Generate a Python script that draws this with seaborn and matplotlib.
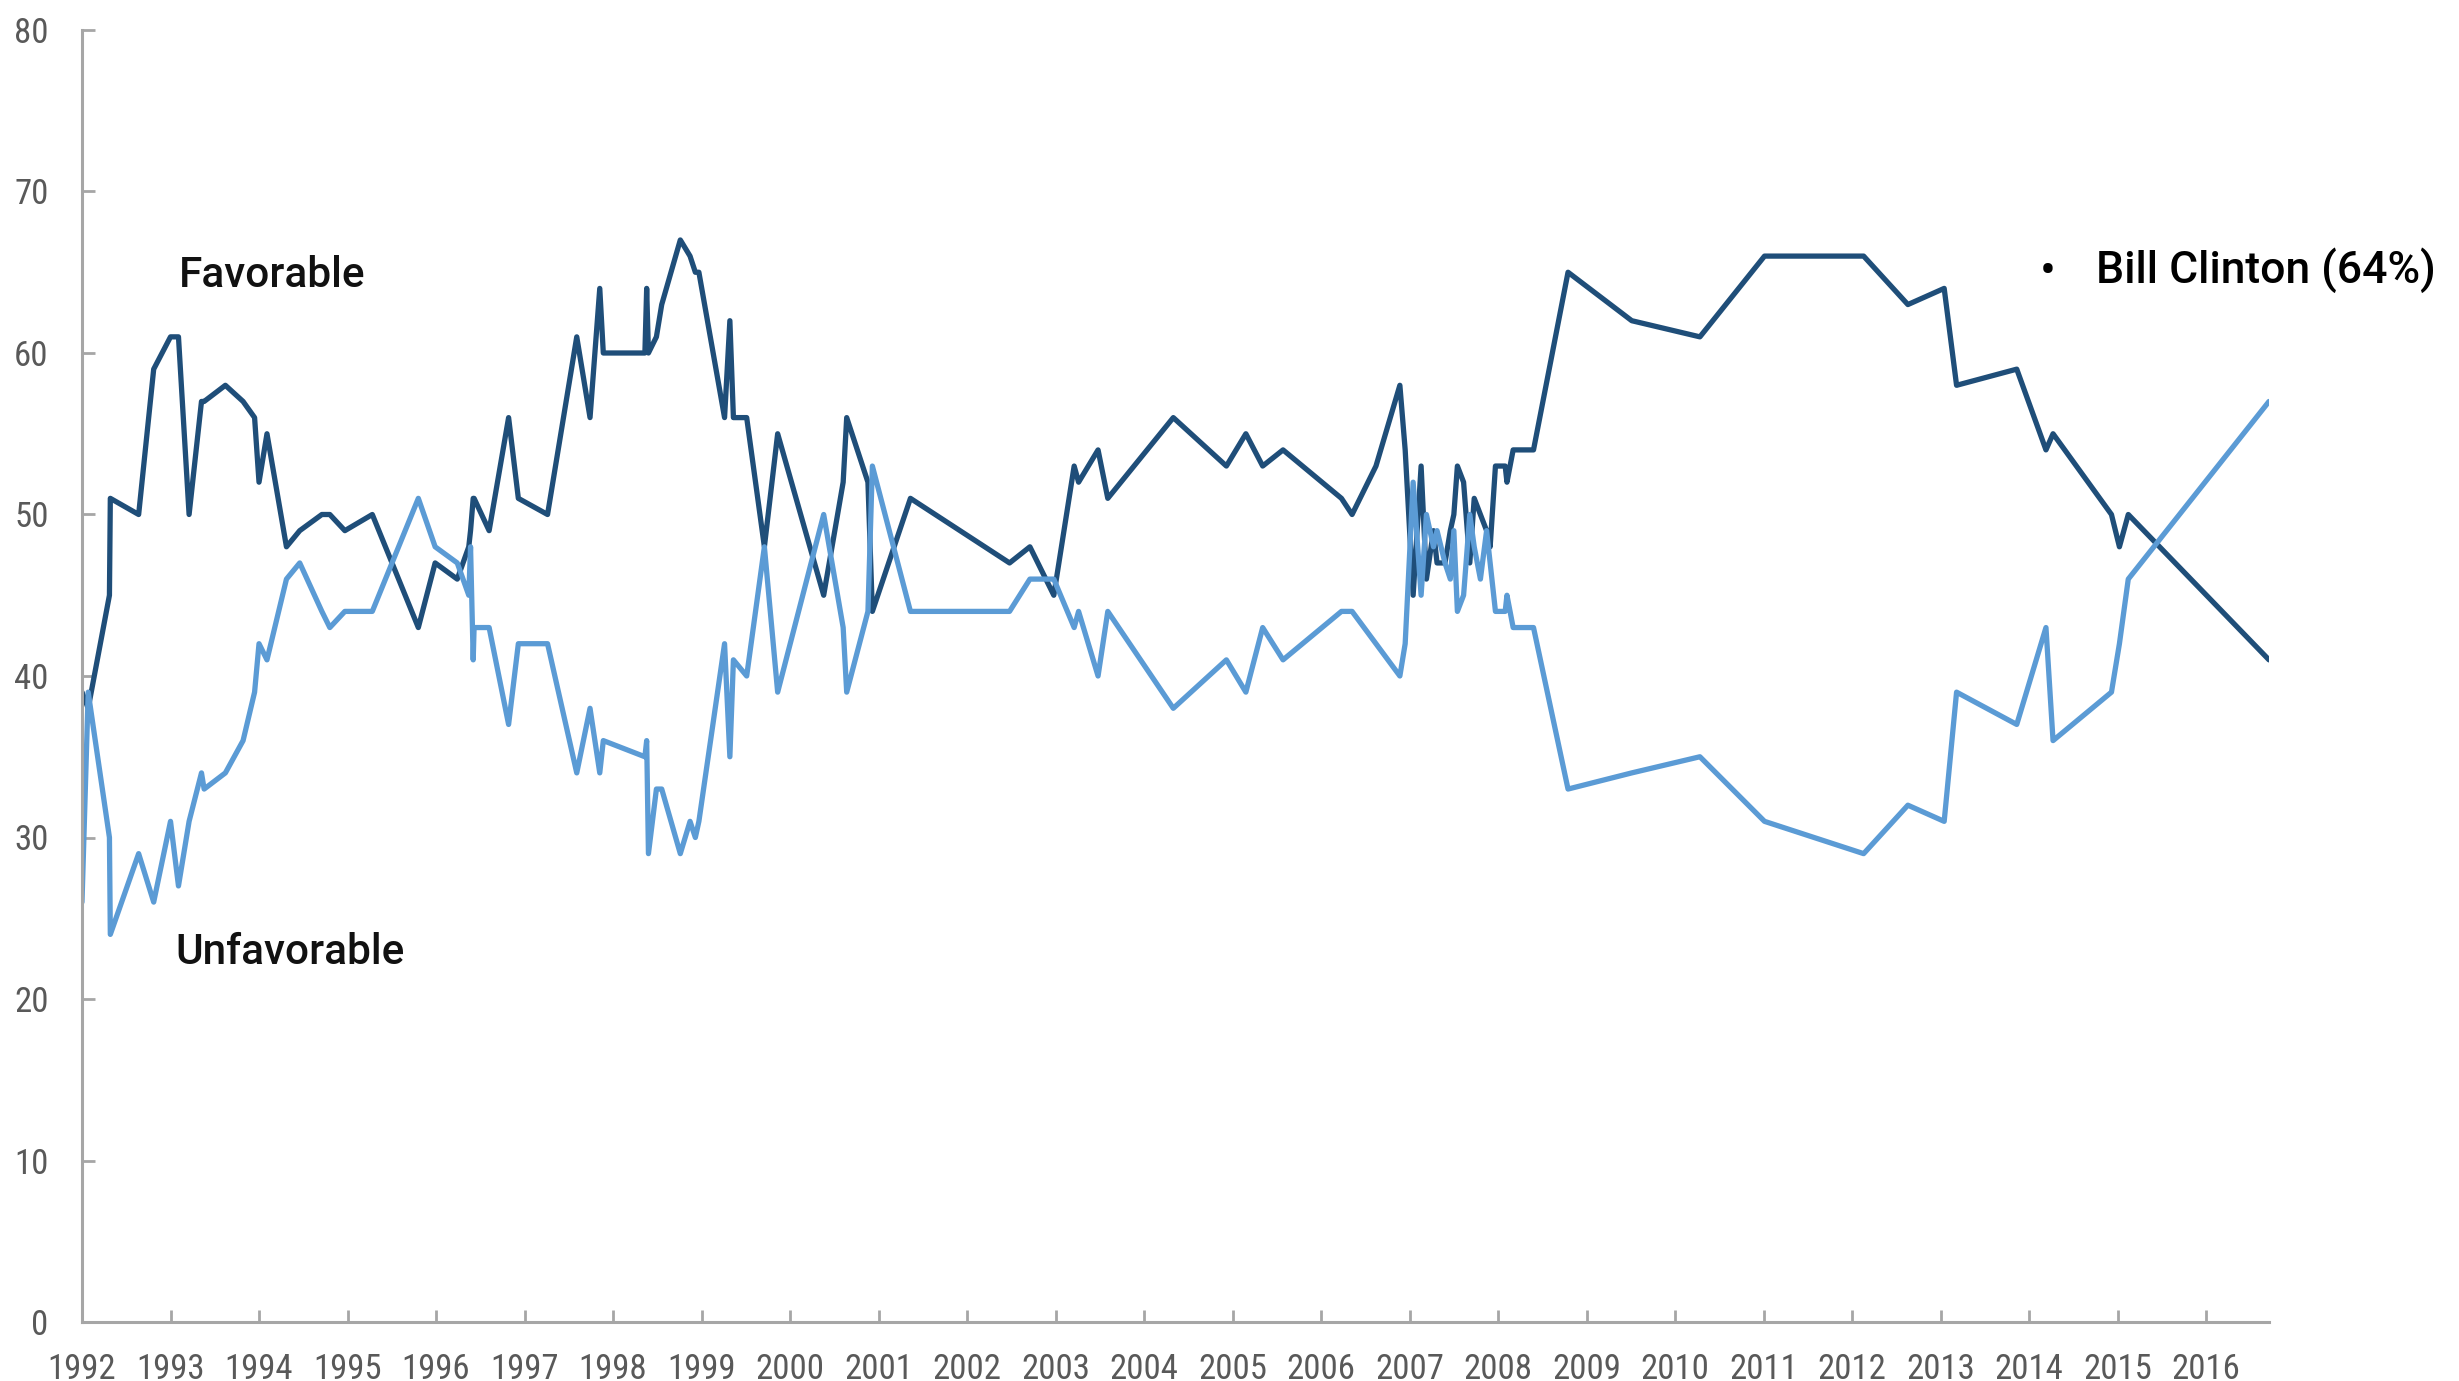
import matplotlib
matplotlib.use("Agg")
import numpy as np
import pandas as pd
import matplotlib.pyplot as plt
import seaborn as sns
from matplotlib import font_manager as fm

# ---------------- data (poll date as decimal year) ----------------
poll_dates = [
    1992.00, 1992.07, 1992.31, 1992.32, 1992.64, 1992.81, 1993.00, 1993.09, 1993.21, 1993.35,
    1993.38, 1993.62, 1993.82, 1993.95, 1994.00, 1994.09, 1994.31, 1994.46, 1994.71, 1994.80,
    1994.97, 1995.28, 1995.80, 1995.99, 1996.24, 1996.37, 1996.39, 1996.42, 1996.43, 1996.60,
    1996.82, 1996.93, 1997.26, 1997.59, 1997.74, 1997.85, 1997.89, 1998.36, 1998.38, 1998.40,
    1998.49, 1998.55, 1998.76, 1998.87, 1998.93, 1998.97, 1999.26, 1999.32, 1999.36, 1999.51,
    1999.71, 1999.86, 2000.38, 2000.60, 2000.64, 2000.88, 2000.93, 2001.36, 2002.48, 2002.71,
    2002.98, 2003.21, 2003.26, 2003.48, 2003.59, 2004.33, 2004.93, 2005.15, 2005.34, 2005.57,
    2006.23, 2006.35, 2006.62, 2006.89, 2006.95, 2007.04, 2007.13, 2007.19, 2007.27, 2007.31,
    2007.40, 2007.46, 2007.50, 2007.54, 2007.61, 2007.68, 2007.73, 2007.80, 2007.87, 2007.91,
    2007.97, 2008.08, 2008.10, 2008.17, 2008.40, 2008.79, 2009.51, 2010.28, 2011.01, 2012.13,
    2012.63, 2013.04, 2013.18, 2013.86, 2014.19, 2014.27, 2014.93, 2015.02, 2015.12, 2016.71,
]
favorable = [
    39, 38, 45, 51, 50, 59, 61, 61, 50, 57,
    57, 58, 57, 56, 52, 55, 48, 49, 50, 50,
    49, 50, 43, 47, 46, 48, 49, 51, 51, 49,
    56, 51, 50, 61, 56, 64, 60, 60, 64, 60,
    61, 63, 67, 66, 65, 65, 56, 62, 56, 56,
    48, 55, 45, 52, 56, 52, 44, 51, 47, 48,
    45, 53, 52, 54, 51, 56, 53, 55, 53, 54,
    51, 50, 53, 58, 54, 45, 53, 46, 49, 47,
    47, 49, 50, 53, 52, 47, 51, 50, 49, 48,
    53, 53, 52, 54, 54, 65, 62, 61, 66, 66,
    63, 64, 58, 59, 54, 55, 50, 48, 50, 41,
]
unfavorable = [
    26, 39, 30, 24, 29, 26, 31, 27, 31, 34,
    33, 34, 36, 39, 42, 41, 46, 47, 44, 43,
    44, 44, 51, 48, 47, 45, 48, 41, 43, 43,
    37, 42, 42, 34, 38, 34, 36, 35, 36, 29,
    33, 33, 29, 31, 30, 31, 42, 35, 41, 40,
    48, 39, 50, 43, 39, 44, 53, 44, 44, 46,
    46, 43, 44, 40, 44, 38, 41, 39, 43, 41,
    44, 44, 42, 40, 42, 52, 45, 50, 48, 49,
    47, 46, 49, 44, 45, 50, 48, 46, 49, 47,
    44, 44, 45, 43, 43, 33, 34, 35, 31, 29,
    32, 31, 39, 37, 43, 36, 39, 42, 46, 57,
]
series_names = ["Favorable", "Unfavorable"]
series_colors = ["#1f4e79", "#5b9bd5"]
year_ticks = list(range(1992, 2017))
value_ticks = list(range(0, 81, 10))
annotation_text = "Bill Clinton (64%)"

# ---------------- style ----------------
sns.set_theme(style="white")
names = {f.name for f in fm.fontManager.ttflist}
main_font = "Roboto" if "Roboto" in names else "DejaVu Sans"
tick_font = main_font
for cand in ["Roboto Condensed", "Liberation Sans Narrow", "Open Sans Condensed"]:
    if cand in names:
        tick_font = cand
        break
plt.rcParams["font.family"] = [main_font, "DejaVu Sans"]
plt.rcParams["lines.solid_joinstyle"] = "round"
plt.rcParams["lines.solid_capstyle"] = "round"

W, H = 2459, 1381
fig = plt.figure(figsize=(W / 100, H / 100), dpi=100)
ax = fig.add_axes([82 / W, 59 / H, (2269 - 82) / W, (1351 - 59) / H])

df = pd.DataFrame({
    "date": poll_dates * 2,
    "value": favorable + unfavorable,
    "series": [series_names[0]] * len(poll_dates) + [series_names[1]] * len(poll_dates),
})
sns.lineplot(data=df, x="date", y="value", hue="series",
             palette=dict(zip(series_names, series_colors)),
             hue_order=series_names, estimator=None, sort=False,
             linewidth=3.8, legend=False, ax=ax)

ax.set_xlim(poll_dates[0], poll_dates[-1])
ax.set_ylim(0, 80)
ax.set_xticks(year_ticks)
ax.set_xticklabels([str(y) for y in year_ticks])
ax.set_yticks(value_ticks)
ax.set_yticklabels([str(v) for v in value_ticks])
ax.set_xlabel("")
ax.set_ylabel("")

axis_gray = "#a6a6a6"
for side in ["top", "right"]:
    ax.spines[side].set_visible(False)
for side in ["left", "bottom"]:
    ax.spines[side].set_color(axis_gray)
    ax.spines[side].set_linewidth(2.2)
ax.tick_params(axis="both", direction="in", length=9, width=2, color=axis_gray,
               labelcolor="#595959", labelsize=25)
ax.tick_params(axis="x", pad=22, bottom=True)
ax.tick_params(axis="y", pad=24, left=True)
for lab in ax.get_xticklabels() + ax.get_yticklabels():
    lab.set_fontfamily([tick_font, "DejaVu Sans"])

ax.text(1993.1, 64.8, series_names[0], fontsize=30.5, fontweight="medium",
        color="#111111", ha="left", va="center")
ax.text(1993.05, 22.9, series_names[1], fontsize=30.5, fontweight="medium",
        color="#111111", ha="left", va="center")

fig.text(2048 / W, 1 - 272 / H, "\u2022", fontsize=34, color="#000000",
         ha="center", va="center")
fig.text(2096 / W, 1 - 270 / H, annotation_text, fontsize=32, fontweight="medium",
         color="#000000", ha="left", va="center")

fig.savefig("out.png", dpi=100, facecolor="white")
